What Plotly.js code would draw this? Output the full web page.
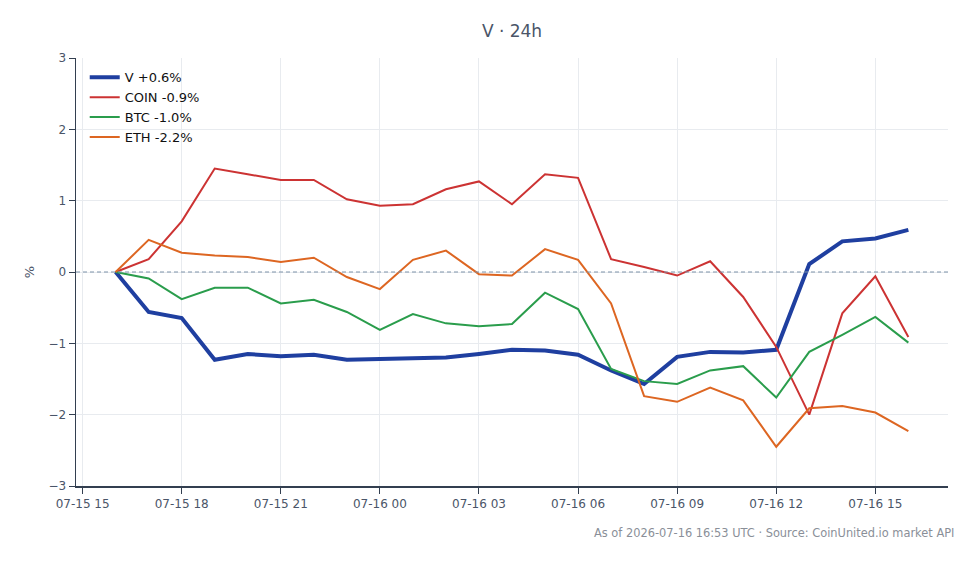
<!DOCTYPE html>
<html>
<head>
<meta charset="utf-8">
<script src="https://cdn.plot.ly/plotly-3.0.1.min.js"></script>
<style>html,body{margin:0;padding:0;background:#fff;}#chart{width:980px;height:564px;}</style>
</head>
<body>
<div id="chart"></div>
<script>
const times = [
  "2026-07-15 16:00","2026-07-15 17:00","2026-07-15 18:00","2026-07-15 19:00","2026-07-15 20:00",
  "2026-07-15 21:00","2026-07-15 22:00","2026-07-15 23:00","2026-07-16 00:00","2026-07-16 01:00",
  "2026-07-16 02:00","2026-07-16 03:00","2026-07-16 04:00","2026-07-16 05:00","2026-07-16 06:00",
  "2026-07-16 07:00","2026-07-16 08:00","2026-07-16 09:00","2026-07-16 10:00","2026-07-16 11:00",
  "2026-07-16 12:00","2026-07-16 13:00","2026-07-16 14:00","2026-07-16 15:00","2026-07-16 16:00"
];
const vVals = [0,-0.56,-0.645,-1.23,-1.15,-1.18,-1.16,-1.23,-1.22,-1.21,-1.20,-1.15,-1.09,-1.10,-1.16,-1.38,-1.57,-1.19,-1.12,-1.13,-1.09,0.11,0.43,0.47,0.59];
const coinVals = [0,0.18,0.71,1.45,1.37,1.29,1.29,1.02,0.93,0.95,1.16,1.27,0.95,1.37,1.32,0.18,0.07,-0.05,0.15,-0.35,-1.05,-2.0,-0.58,-0.06,-0.91];
const btcVals = [0,-0.09,-0.38,-0.22,-0.22,-0.44,-0.39,-0.56,-0.81,-0.59,-0.72,-0.76,-0.73,-0.29,-0.52,-1.36,-1.53,-1.57,-1.38,-1.32,-1.76,-1.12,-0.88,-0.63,-0.99];
const ethVals = [0,0.45,0.27,0.23,0.21,0.14,0.20,-0.07,-0.24,0.17,0.30,-0.03,-0.05,0.32,0.17,-0.44,-1.74,-1.82,-1.62,-1.80,-2.45,-1.91,-1.88,-1.97,-2.23];
const seriesNames = ["V +0.6%","COIN -0.9%","BTC -1.0%","ETH -2.2%"];
const yTicks = [-3,-2,-1,0,1,2,3];

const font = "DejaVu Sans, sans-serif";
const traces = [
  {x: times, y: vVals, name: seriesNames[0], mode: "lines", line: {color: "#1f3fa0", width: 4}},
  {x: times, y: coinVals, name: seriesNames[1], mode: "lines", line: {color: "#cc3333", width: 2}},
  {x: times, y: btcVals, name: seriesNames[2], mode: "lines", line: {color: "#2a9d4c", width: 2}},
  {x: times, y: ethVals, name: seriesNames[3], mode: "lines", line: {color: "#dd6622", width: 2}}
];
const layout = {
  width: 980, height: 564,
  margin: {l: 76, r: 32, t: 58, b: 78},
  paper_bgcolor: "#fff", plot_bgcolor: "#fff",
  font: {family: font, size: 12, color: "#4a5568"},
  title: {text: "V · 24h", xref: "paper", x: 0.5, xanchor: "center", yref: "container", y: 0.945, yanchor: "middle", font: {family: font, size: 17, color: "#4a5568"}},
  showlegend: true,
  legend: {x: 0.01, y: 0.99, xanchor: "left", yanchor: "top", bgcolor: "rgba(0,0,0,0)", font: {family: font, size: 13, color: "#111"}},
  xaxis: {
    type: "date",
    range: ["2026-07-15 14:48", "2026-07-16 17:12"],
    dtick: 3*3600*1000, tick0: "2026-07-15 15:00", tickformat: "%m-%d %H",
    showgrid: true, gridcolor: "#e8ebef", showline: true, linecolor: "#333f50", linewidth: 1.5,
    ticks: "outside", ticklen: 6, tickcolor: "#333f50", zeroline: false,
    tickfont: {family: font, size: 12, color: "#4a5568"}
  },
  yaxis: {
    range: [-3, 3], tickvals: yTicks,
    title: {text: "%", font: {family: font, size: 13, color: "#4a5568"}, standoff: 11},
    showgrid: true, gridcolor: "#e8ebef", showline: true, linecolor: "#333f50", linewidth: 1.5,
    ticks: "outside", ticklen: 6, tickcolor: "#333f50", zeroline: false,
    tickfont: {family: font, size: 12, color: "#4a5568"}
  },
  shapes: [{type: "line", xref: "paper", x0: 0, x1: 1, yref: "y", y0: 0, y1: 0, line: {color: "#7f93aa", width: 1.2, dash: "4px,3px"}, layer: "above"}],
  annotations: [{
    text: "As of 2026-07-16 16:53 UTC · Source: CoinUnited.io market API",
    xref: "paper", yref: "paper", x: 1.009, y: -0.109, xanchor: "right", yanchor: "middle",
    showarrow: false, font: {family: font, size: 11.4, color: "#8a8f98"}
  }]
};
Plotly.newPlot("chart", traces, layout, {displayModeBar: false, staticPlot: true});
</script>
</body>
</html>
